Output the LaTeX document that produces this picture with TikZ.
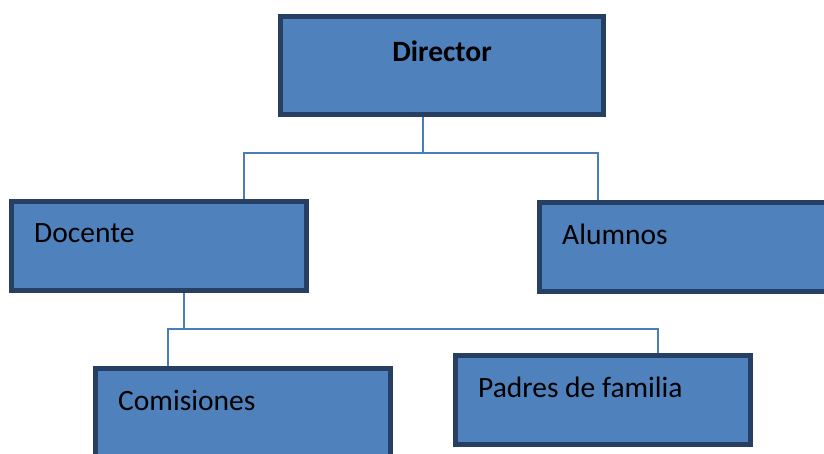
\documentclass[tikz,border=0pt]{standalone}
\usepackage{fontspec}
\setmainfont{Carlito}
\definecolor{boxfill}{HTML}{4F81BD}
\definecolor{boxline}{HTML}{263F62}
\definecolor{connline}{HTML}{4A7EBB}

\begin{document}
\begin{tikzpicture}[x=1pt,y=-1pt,
    box/.style={draw=boxline,fill=boxfill,line width=5pt,minimum width=295pt,minimum height=89pt},
    txt/.style={anchor=west,inner sep=0pt,xshift=25pt,yshift=12.5pt,font=\fontsize{29.5}{35}\selectfont},
    conn/.style={draw=connline,line width=2pt}]
    \useasboundingbox (0,0) rectangle (824,453);

    \node[box,minimum width=323pt,minimum height=98pt,
      label={[font=\fontsize{29.5}{35}\selectfont\bfseries,yshift=14pt]center:Director}] (director) at (442,65.5) {};
    \node[box,label={[txt]west:Docente}]           (docente)    at (159,246) {};
    \node[box,label={[txt]west:Alumnos}]           (alumnos)    at (687,247) {};
    \node[box,label={[txt]west:Comisiones}]        (comisiones) at (243,413) {};
    \node[box,label={[txt]west:Padres de familia}] (padres)     at (603,400) {};

    \coordinate (dirjoin) at (423,153);
    \coordinate (docjoin) at (184,329);

    \draw[conn] (dirjoin |- director.south) -- (dirjoin);
    \draw[conn] (dirjoin) -| ([xshift=85pt]docente.north);
    \draw[conn] (dirjoin) -| ([xshift=-89pt]alumnos.north);
    \draw[conn] (docjoin |- docente.south) -- (docjoin);
    \draw[conn] (docjoin) -| ([xshift=-75pt]comisiones.north);
    \draw[conn] (docjoin) -| ([xshift=55pt]padres.north);
  \end{tikzpicture}
\end{document}
